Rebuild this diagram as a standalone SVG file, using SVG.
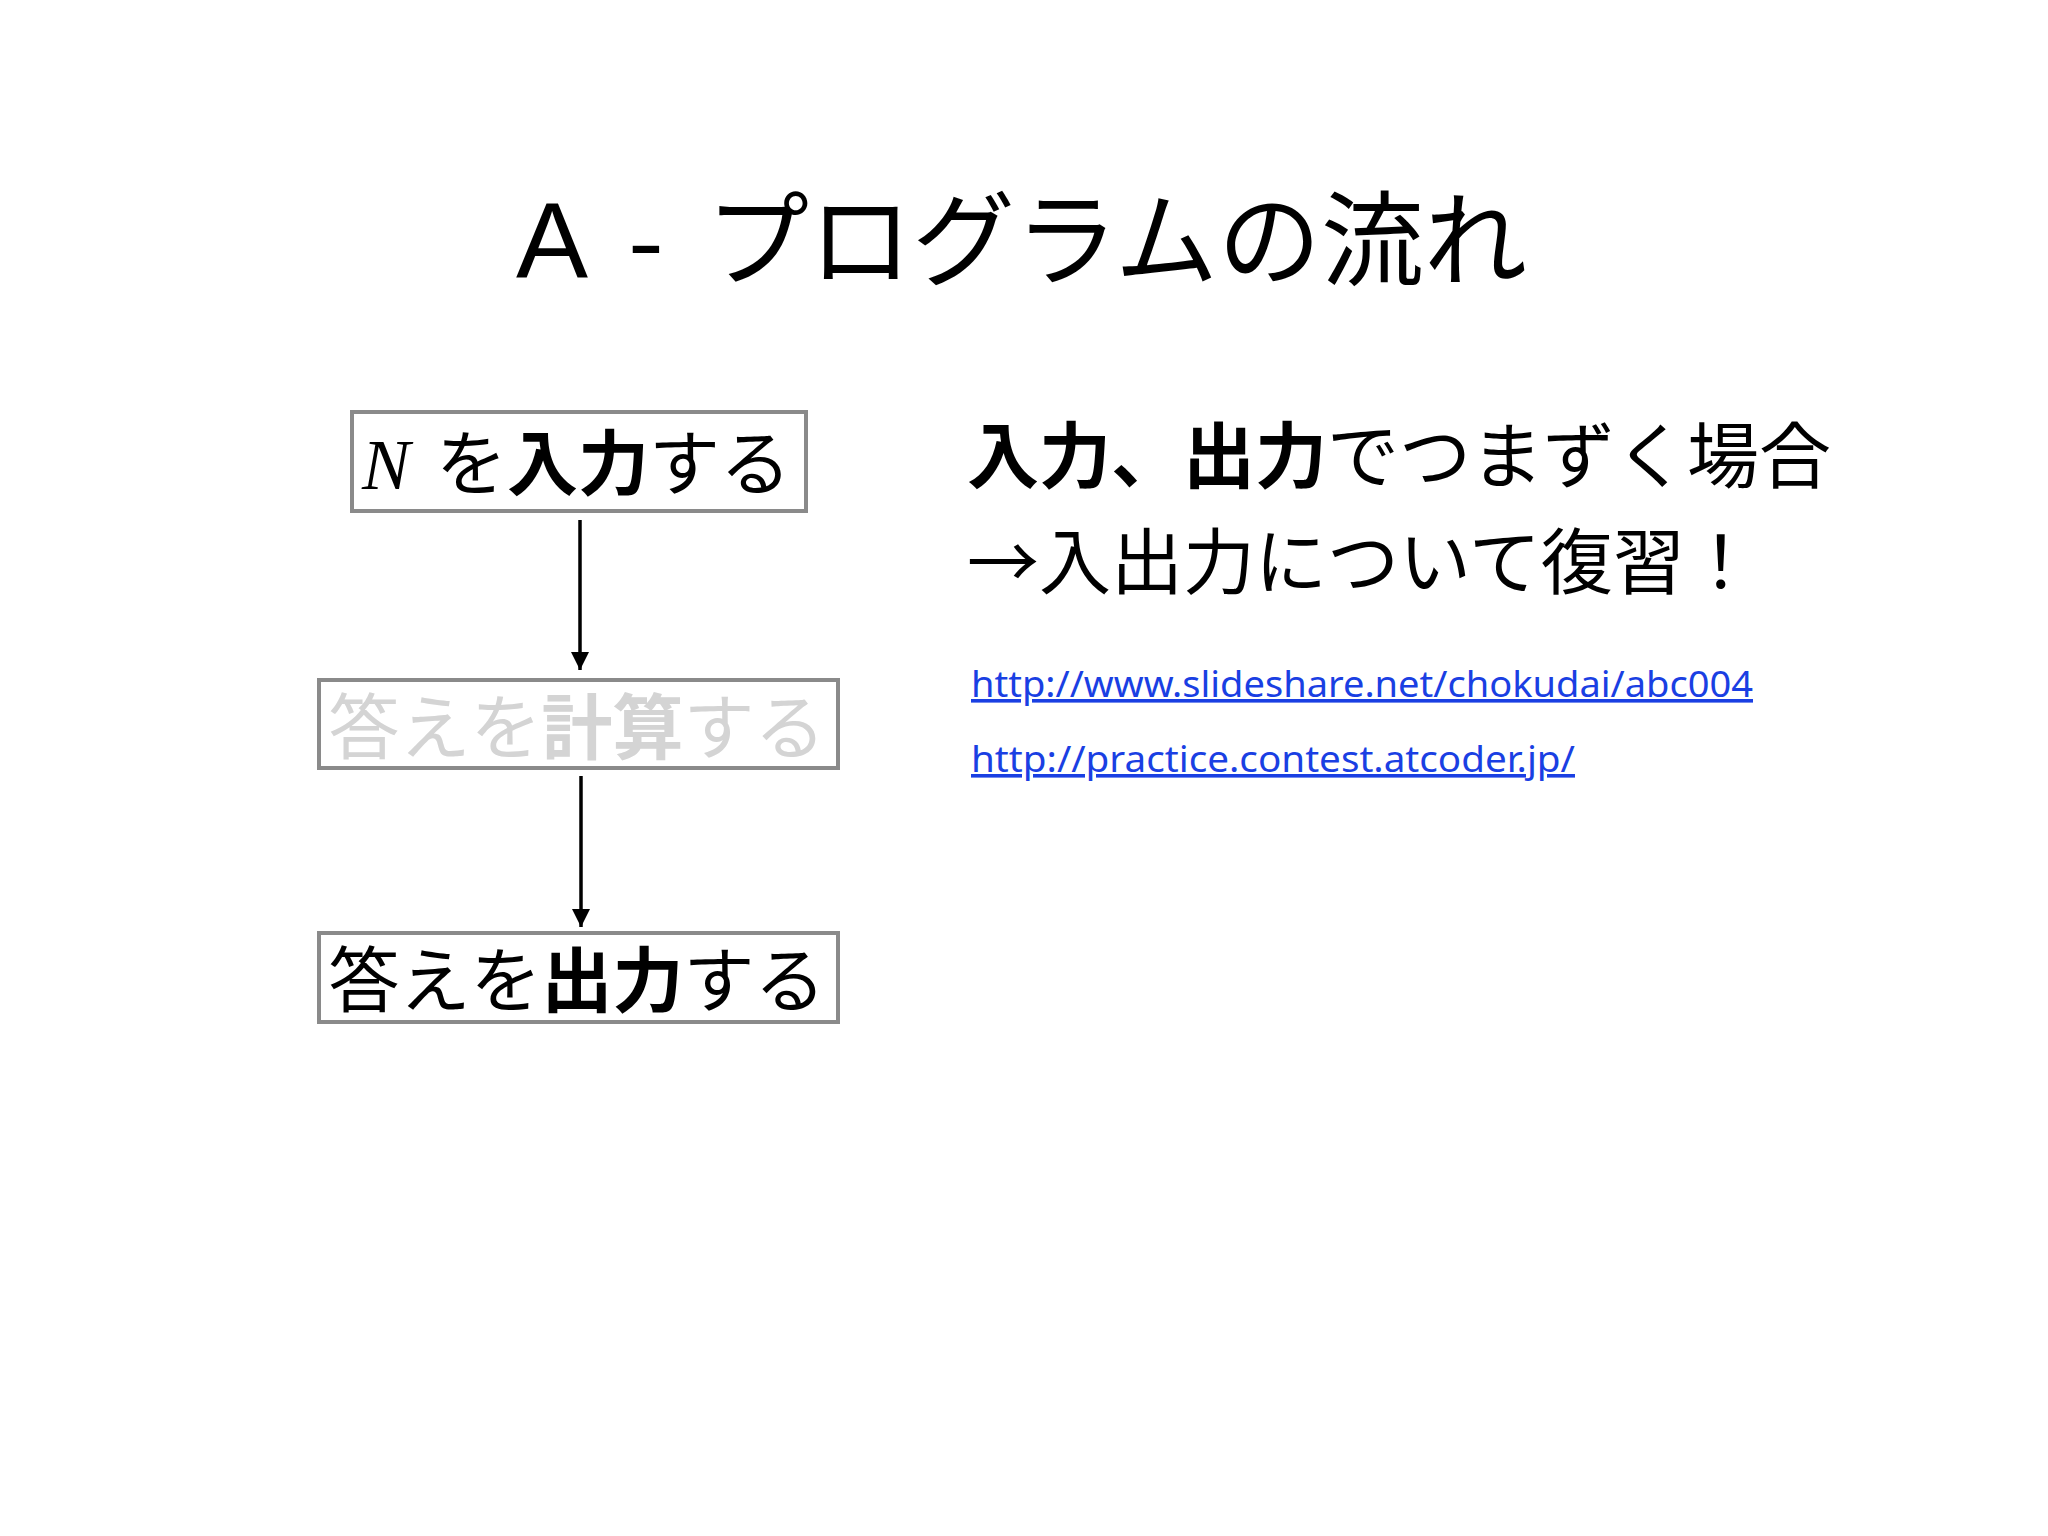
<svg xmlns="http://www.w3.org/2000/svg" width="2048" height="1536" viewBox="0 0 2048 1536">
<style>
.jp{font-family:"Noto Sans CJK JP","Noto Sans",sans-serif;}
.b{font-weight:bold;}
.box{fill:#fff;stroke:#8a8a8a;stroke-width:4;}
.lbl{font-family:"Noto Sans CJK JP",sans-serif;font-size:71px;fill:#000;}
.dim{fill:#d4d4d4;}
.conn{stroke:#000;stroke-width:3.5;fill:none;}
.link{font-family:"Noto Sans","Noto Sans CJK JP",sans-serif;font-size:36px;fill:#1a3fe3;text-decoration:underline;}
</style>
<defs>
<marker id="ah" markerUnits="userSpaceOnUse" markerWidth="20" markerHeight="20" viewBox="0 0 20 20" refX="18" refY="10" orient="auto">
<path d="M0,1 L18,10 L0,19 Z" fill="#000"/>
</marker>
</defs>
<rect width="2048" height="1536" fill="#fff"/>

<text class="jp" y="278" font-size="103" fill="#000"><tspan x="516" font-family="Liberation Sans,sans-serif" font-size="108">A</tspan> <tspan x="628">-</tspan> <tspan x="706">プログラムの流れ</tspan></text>

<g id="node-input">
<rect class="box" x="352" y="412" width="454" height="99"/>
<text class="lbl" y="489"><tspan x="362" font-family="Liberation Serif,serif" font-style="italic" font-size="72">N</tspan> <tspan x="436">を</tspan><tspan class="b">入力</tspan><tspan>する</tspan></text>
</g>

<g id="node-compute">
<rect class="box" x="319" y="680" width="519" height="88"/>
<text class="lbl dim" x="577" y="753" text-anchor="middle" font-size="72">答えを<tspan class="b">計算</tspan>する</text>
</g>

<g id="node-output">
<rect class="box" x="319" y="933" width="519" height="89"/>
<text class="lbl" x="577" y="1006" text-anchor="middle" font-size="72">答えを<tspan class="b">出力</tspan>する</text>
</g>

<g id="connectors">
<line class="conn" x1="580" y1="520" x2="580" y2="670" marker-end="url(#ah)"/>
<line class="conn" x1="581" y1="776" x2="581" y2="927" marker-end="url(#ah)"/>
</g>

<g id="notes">
<text class="jp" x="967" y="482" font-size="72" fill="#000"><tspan class="b">入力、出力</tspan>でつまずく場合</text>
<text class="jp" x="967" y="588" font-size="72" fill="#000">→入出力について復習！</text>
<text class="link" x="971" y="697" textLength="782" lengthAdjust="spacingAndGlyphs">http://www.slideshare.net/chokudai/abc004</text>
<text class="link" x="971" y="772" textLength="604" lengthAdjust="spacingAndGlyphs">http://practice.contest.atcoder.jp/</text>
</g>
</svg>
